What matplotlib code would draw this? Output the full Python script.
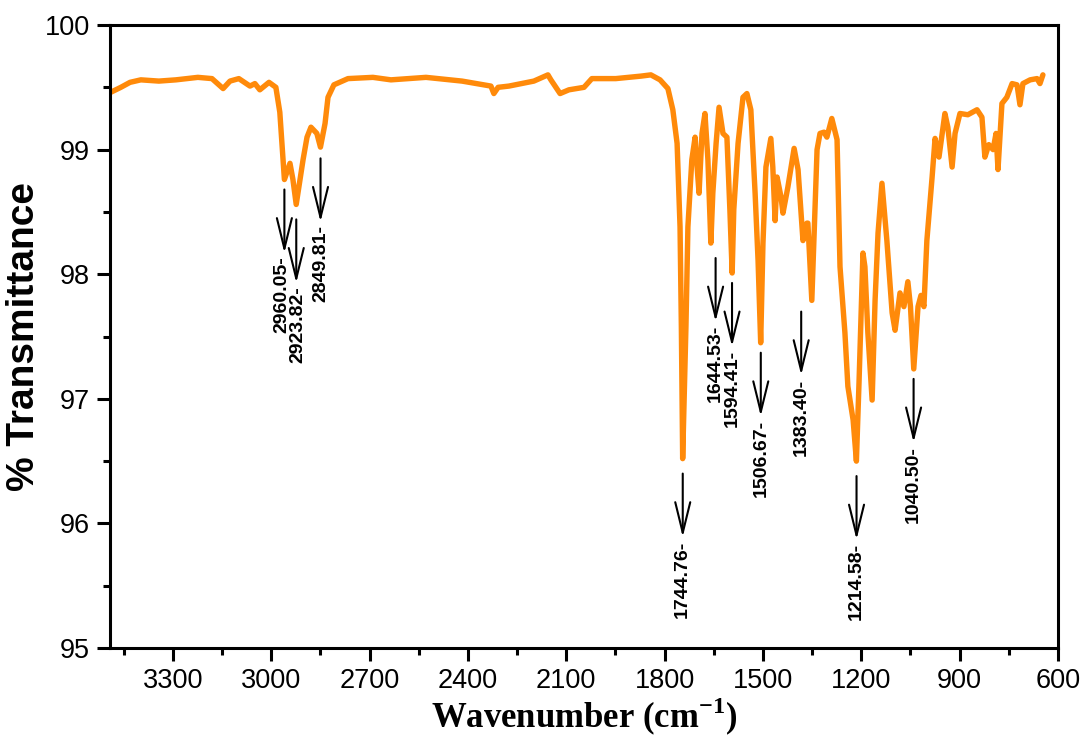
import matplotlib
matplotlib.use("Agg")
import matplotlib.pyplot as plt
from matplotlib.ticker import MultipleLocator

plt.rcParams["mathtext.fontset"] = "custom"
plt.rcParams["mathtext.bf"] = "Liberation Serif:bold"
plt.rcParams["mathtext.rm"] = "Liberation Serif:bold"

# FTIR spectrum, wavenumber (cm-1) vs % transmittance
wavenumber = [
    3490, 3459, 3431, 3398, 3343, 3291, 3224, 3181, 3147, 3126, 3099, 3065,
    3050, 3035, 3007, 2986, 2974, 2964, 2960, 2943, 2934, 2924, 2903, 2891,
    2879, 2861, 2850, 2836, 2827, 2809, 2766, 2690, 2635, 2528, 2418, 2330,
    2321, 2308, 2275, 2199, 2156, 2147, 2119, 2092, 2046, 2022, 1949, 1872,
    1842, 1814, 1790, 1775, 1762, 1753, 1749, 1745, 1735, 1729, 1717, 1707,
    1701, 1695, 1686, 1677, 1668, 1659, 1653, 1643, 1634, 1622, 1610, 1601,
    1594, 1589, 1576, 1561, 1549, 1537, 1524, 1515, 1507, 1500, 1491, 1476,
    1470, 1463, 1457, 1445, 1439, 1424, 1405, 1393, 1378, 1366, 1363, 1351,
    1344, 1335, 1326, 1314, 1305, 1290, 1274, 1265, 1250, 1241, 1225, 1215,
    1207, 1195, 1189, 1180, 1167, 1158, 1149, 1137, 1122, 1106, 1097, 1082,
    1070, 1058, 1050, 1040, 1027, 1018, 1009, 1000, 984, 975, 963, 945,
    936, 923, 914, 899, 875, 847, 832, 823, 811, 798, 789, 783,
    771, 756, 740, 725, 716, 707, 685, 664, 655, 646,
]
transmittance = [
    99.46, 99.50, 99.54, 99.56, 99.55, 99.56, 99.58, 99.57, 99.49, 99.55, 99.57, 99.51,
    99.53, 99.48, 99.54, 99.50, 99.30, 98.92, 98.76, 98.89, 98.76, 98.56, 98.92, 99.10,
    99.18, 99.13, 99.02, 99.21, 99.42, 99.52, 99.57, 99.58, 99.56, 99.58, 99.55, 99.51,
    99.45, 99.50, 99.51, 99.55, 99.60, 99.56, 99.45, 99.48, 99.50, 99.57, 99.57, 99.59,
    99.60, 99.56, 99.49, 99.32, 99.05, 98.38, 97.58, 96.52, 97.58, 98.38, 98.92, 99.10,
    98.86, 98.65, 99.13, 99.29, 98.92, 98.25, 98.65, 99.05, 99.34, 99.13, 99.10, 98.52,
    98.01, 98.52, 99.05, 99.42, 99.45, 99.32, 98.65, 98.11, 97.45, 98.25, 98.86, 99.09,
    98.86, 98.43, 98.78, 98.62, 98.49, 98.70, 99.01, 98.84, 98.27, 98.41, 98.41, 97.79,
    98.33, 99.00, 99.13, 99.14, 99.10, 99.25, 99.08, 98.06, 97.53, 97.10, 96.83, 96.50,
    97.13, 98.17, 98.06, 97.53, 96.99, 97.79, 98.33, 98.73, 98.27, 97.69, 97.55, 97.85,
    97.74, 97.94, 97.74, 97.24, 97.74, 97.83, 97.74, 98.27, 98.78, 99.09, 98.94, 99.29,
    99.18, 98.86, 99.13, 99.29, 99.28, 99.32, 99.26, 98.94, 99.04, 99.00, 99.13, 98.84,
    99.37, 99.42, 99.53, 99.52, 99.36, 99.53, 99.56, 99.57, 99.53, 99.60,
]

# labelled bands: wavenumber, arrow tip (% T)
peak_labels = ["2960.05", "2923.82", "2849.81", "1744.76", "1644.53",
               "1594.41", "1506.67", "1383.40", "1214.58", "1040.50"]
peak_tips = [98.17, 97.93, 98.42, 95.89, 97.62, 97.42, 96.86, 97.19, 95.87, 96.65]
# sideways nudge of each label (points) so the two close C-H labels don't collide
label_shift = [-1.5, 1.5, 0, 0, 0, 0, 0, 0, 0, 0]

fig = plt.figure(figsize=(10.85, 7.47), dpi=100)
ax = fig.add_axes([0.1014, 0.1325, 0.8737, 0.834])

ax.plot(wavenumber, transmittance, color="#FF8A0A", lw=3.9,
        solid_joinstyle="round", solid_capstyle="round")

for lab, tip, dx in zip(peak_labels, peak_tips, label_shift):
    w = float(lab)
    ax.annotate("", xy=(w, tip), xytext=(w, tip + 0.51),
                arrowprops=dict(arrowstyle="->,head_length=1.1,head_width=0.27",
                                color="black", lw=1.5, shrinkA=0, shrinkB=0,
                                mutation_scale=20))
    ax.annotate(lab + "-", xy=(w, tip), xytext=(dx, -2.5),
                textcoords="offset points", rotation=90, ha="center", va="top",
                fontsize=14, fontweight="bold", family="Liberation Sans")

ax.set_xlim(3492, 600)
ax.set_ylim(95, 100)
ax.xaxis.set_major_locator(MultipleLocator(300))
ax.xaxis.set_minor_locator(MultipleLocator(150))
ax.yaxis.set_major_locator(MultipleLocator(1))
ax.yaxis.set_minor_locator(MultipleLocator(0.5))

for s in ax.spines.values():
    s.set_linewidth(2.2)
ax.tick_params(which="major", direction="out", length=9.5, width=2.2,
               labelsize=19.5, pad=5)
ax.tick_params(which="minor", direction="out", length=5, width=2.2)
for t in ax.get_xticklabels() + ax.get_yticklabels():
    t.set_family("Liberation Sans")

ax.set_ylabel("% Transmittance", fontsize=28, fontweight="bold",
              family="Liberation Sans", labelpad=2)
ax.set_xlabel(r"Wavenumber (cm$^{\mathbf{-1}}$)", fontsize=25, fontweight="bold",
              family="Liberation Serif", labelpad=1)

fig.savefig("out.png", dpi=100)
